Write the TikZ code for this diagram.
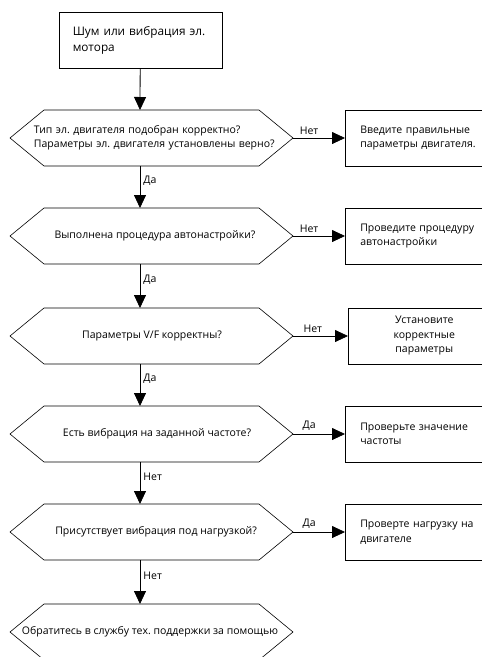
\documentclass[tikz,border=0pt]{standalone}
\usepackage{fontspec}
\setmainfont{Open Sans}
\usetikzlibrary{arrows.meta}

\tikzset{
  decision/.style={inner sep=0pt, align=center, font=\fontsize{10.5}{14}\selectfont},
  action/.style={draw, anchor=west, minimum width=150pt, minimum height=56pt,
    text width=122pt, inner xsep=15pt, align=left, font=\fontsize{10.5}{14.5}\selectfont},
  answer/.style={font=\fontsize{10.5}{12}\selectfont, inner sep=3pt},
  flow/.style={-{Triangle[width=12pt,length=13pt]}, line width=0.8pt},
}
\frenchspacing

\begin{document}
\begin{tikzpicture}[x=1pt,y=-1pt,line width=0.6pt]
\useasboundingbox (0,0) rectangle (482,657);
\clip (0,0) rectangle (482,657);
\fill [white] (0,0) rectangle (482,657);

\node (start) at (58.5,12) [draw, anchor=north west, minimum width=163pt, minimum height=56pt,
  text width=135pt, inner xsep=14pt, align=left, font=\fontsize{11.8}{16}\selectfont]
  {Шум или вибрация эл.\\мотора};

% questions
\node (q1) at (159,138) [decision, text width=250pt, align=left]
  {Тип эл. двигателя подобран корректно?\\Параметры эл. двигателя установлены верно?};
\node (q2) at (155,236) [decision] {Выполнена процедура автонастройки?};
\node (q3) at (152,336) [decision] {Параметры V/F корректны?};
\node (q4) at (157,434) [decision] {Есть вибрация на заданной частоте?};
\node (q5) at (156,532) [decision] {Присутствует вибрация под нагрузкой?};
\node (q6) at (150,632) [decision] {Обратитесь в службу тех. поддержки за помощью};

% hexagon outlines, all on the x=152 axis
\foreach \q in {q1,q2,q3,q4,q5,q6}
  \draw (\q.center -| 152,0) ++(-142,0) -- ++(34,-28) -- ++(215,0) -- ++(34,28) coordinate (\q-e)
        -- ++(-34,28) -- ++(-215,0) -- cycle
        (\q.center -| 140,0) ++(0,-28) coordinate (\q-n) ++(0,56) coordinate (\q-s);

% actions
\node (a1) at (345,138) [action] {Введите правильные\\параметры двигателя.};
\node (a2) at (345,236) [action] {Проведите процедуру\\автонастройки};
\node (a3) at (348,336) [action, align=center] {Установите\\корректные\\параметры};
\node (a4) at (345,434) [action] {Проверьте значение\\частоты};
\node (a5) at (345,532) [action] {Проверте нагрузку на\\двигателе};

\draw [flow] (start) -- (q1-n);
\draw [flow] (q1-s) -- node (y1) [answer, right, pos=.35] {Да} (q2-n);
\draw [flow] (q2-s) -- node (y2) [answer, right, pos=.35] {Да} (q3-n);
\draw [flow] (q3-s) -- node (y3) [answer, right, pos=.35] {Да} (q4-n);
\draw [flow] (q4-s) -- node (n4) [answer, right, pos=.35] {Нет} (q5-n);
\draw [flow] (q5-s) -- node (n5) [answer, right, pos=.35] {Нет} (q6-n);

\draw [flow] (q1-e) -- node (n1) [answer, above, pos=.31] {Нет} (a1);
\draw [flow] (q2-e) -- node (n2) [answer, above, pos=.31] {Нет} (a2);
\draw [flow] (q3-e) -- node (n3) [answer, above, pos=.36] {Нет} (a3);
\draw [flow] (q4-e) -- node (y4) [answer, above, pos=.31] {Да} (a4);
\draw [flow] (q5-e) -- node (y5) [answer, above, pos=.31] {Да} (a5);

\end{tikzpicture}
\end{document}
